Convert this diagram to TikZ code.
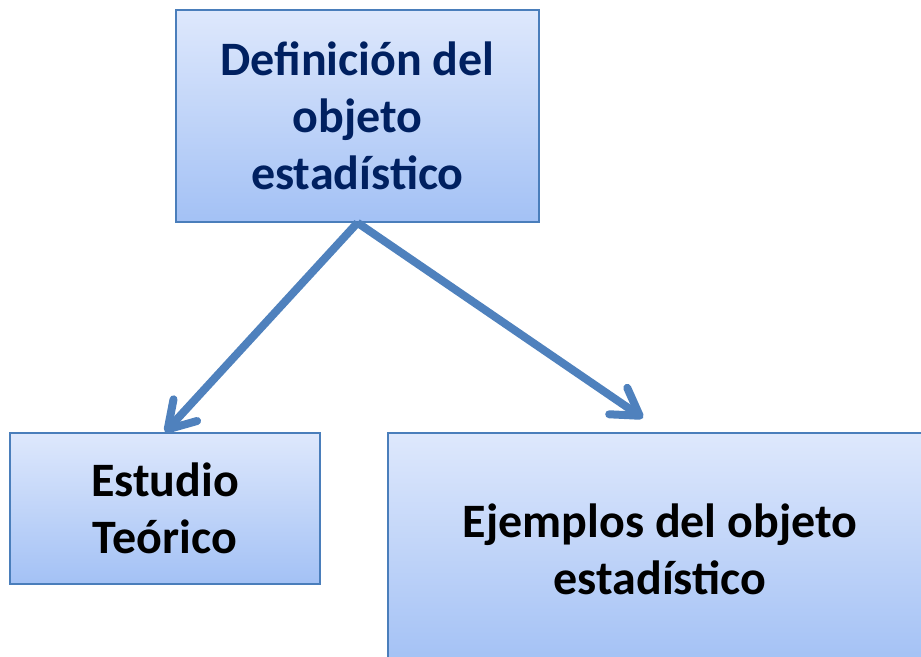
\documentclass[tikz,border=0pt]{standalone}
\usepackage{fontspec}
\setmainfont{Carlito}
\usetikzlibrary{arrows.meta}
\definecolor{boxline}{RGB}{74,126,187}
\definecolor{arrowblue}{RGB}{79,129,189}
\definecolor{boxtop}{RGB}{222,232,252}
\definecolor{boxbottom}{RGB}{163,193,245}
\definecolor{navytext}{RGB}{0,32,96}

\begin{document}
\begin{tikzpicture}[x=1pt,y=-1pt]

      \clip (0,0) rectangle (921,656);

      \begin{scope}[every node/.style={rectangle,draw=boxline,line width=1.5pt,
          top color=boxtop,bottom color=boxbottom,align=center,inner sep=0pt,
          font=\fontsize{48}{57}\selectfont\bfseries}]
        \node[minimum width=363pt,minimum height=212pt,text=navytext] (def) at (357.5,116) {Definición del\\objeto\\estadístico};
        \node[minimum width=310pt,minimum height=151pt] (teo) at (165,508.5) {Estudio\\Teórico};
        \node[minimum width=544pt,minimum height=232pt] (ej) at (660,549) {Ejemplos del objeto\\estadístico};
      \end{scope}

      \coordinate (tip) at (643,418);

      \begin{scope}[every edge/.style={draw=arrowblue,line width=8pt,
          -{Straight Barb[length=26pt,width=32pt,round]}}]
        \path (def.south) edge (teo.north);
        \path (def.south) edge (tip);
      \end{scope}

    \end{tikzpicture}
\end{document}
